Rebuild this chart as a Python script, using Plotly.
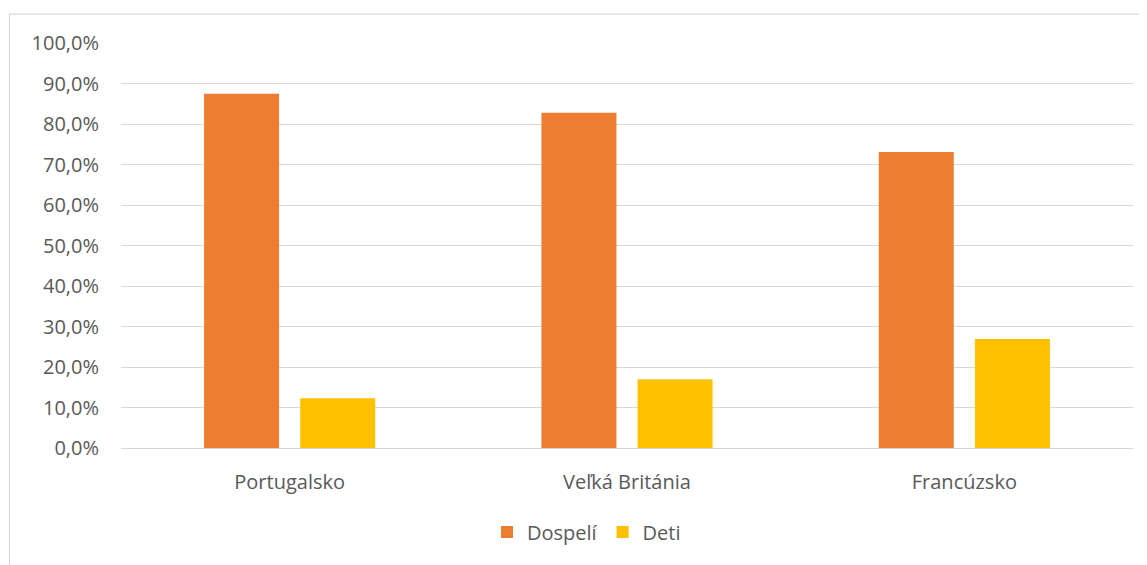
import plotly.graph_objects as go

categories = ["Portugalsko", "Veľká Británia", "Francúzsko"]
dospeli = [0.875, 0.828, 0.731]
deti = [0.123, 0.170, 0.269]
y_ticks = [i / 10 for i in range(11)]

# page body has an 8px margin, so the figure is drawn 8px smaller and offset
OFF = 8
W, H = 1147 - OFF, 565 - OFF
L, R, T, B = 121 - OFF, 14, 42.5 - OFF, 117
pw = W - L - R
ph = H - T - B

font = dict(family="Open Sans, Noto Sans, sans-serif", size=20, color="#595959")

fig = go.Figure()
fig.add_trace(go.Bar(name="Dospelí", x=categories, y=dospeli, marker=dict(color="#ED7D31", line=dict(width=0))))
fig.add_trace(go.Bar(name="Deti", x=categories, y=deti, marker=dict(color="#FFC000", line=dict(width=0))))

fig.update_layout(
    width=W, height=H,
    margin=dict(l=L, r=R, t=T, b=B, autoexpand=False),
    paper_bgcolor="white", plot_bgcolor="white",
    separators=", ",
    barmode="group", bargap=0.43, bargroupgap=0.22,
    font=font,
    showlegend=True,
    legend=dict(orientation="h", x=(487 - OFF - L) / pw, xanchor="left",
                y=(H - B - (532 - OFF)) / ph, yanchor="middle",
                font=dict(size=20, color="#595959"), itemwidth=30,
                bgcolor="rgba(0,0,0,0)"),
    xaxis=dict(showgrid=False, showline=True, linecolor="#d9d9d9", linewidth=1,
               ticks="", tickfont=font, ticklabelstandoff=16, fixedrange=True),
    yaxis=dict(range=[0, 1], tickvals=y_ticks, tickformat=".1%",
               showgrid=True, gridcolor="#d9d9d9", gridwidth=1,
               zeroline=True, zerolinecolor="#d9d9d9", zerolinewidth=1,
               showline=False, ticks="", tickfont=font, ticklabelstandoff=21),
    shapes=[dict(type="rect", xref="paper", yref="paper",
                 x0=(9.5 - OFF - L) / pw, x1=(W + 20 - L) / pw,
                 y0=-(B + 20) / ph, y1=(H - B - (13.5 - OFF)) / ph,
                 line=dict(color="#d9d9d9", width=1.2), fillcolor="rgba(0,0,0,0)", layer="below")],
)

fig.write_html("out.html")
